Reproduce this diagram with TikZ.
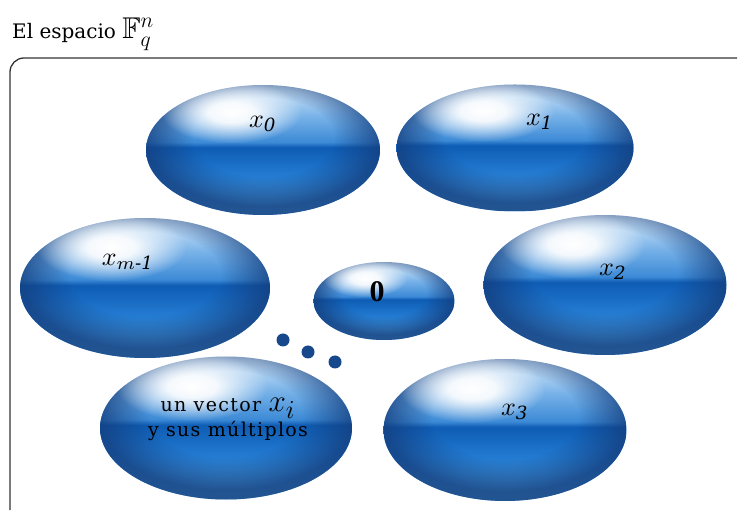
\documentclass[tikz,border=0pt]{standalone}
\usepackage{amsmath,amssymb}
\usepackage{fontspec}
\setmainfont{DejaVu Serif}
\newfontfamily\zerofont{Liberation Serif}
\usetikzlibrary{shapes.geometric,calc,fadings,positioning}
\definecolor{glosswhite}{RGB}{222,237,250}
\definecolor{glosstop}{RGB}{120,178,232}
\definecolor{glossband}{RGB}{60,138,214}
\definecolor{glossdark}{RGB}{14,92,180}
\definecolor{glossmid}{RGB}{36,124,210}
\definecolor{glossbottom}{RGB}{78,156,218}
\definecolor{rimblue}{RGB}{20,60,122}
\definecolor{dotblue}{RGB}{24,72,140}
\newcommand{\bigmath}[2][2.6]{\scalebox{#1}{$#2$}}
% glossy fill of the blobs (the path covers 25bp..75bp)
\pgfdeclareverticalshading{glossbase}{100bp}{color(0bp)=(glossbottom); color(27bp)=(glossbottom); color(40bp)=(glossmid); color(51bp)=(glossdark); color(53bp)=(glossband); color(63bp)=(glosstop); color(75bp)=(glosswhite); color(100bp)=(glosswhite)}
\pgfdeclareradialshading{glowshade}{\pgfpoint{0bp}{0bp}}{color(0bp)=(white); color(8bp)=(white!92!black); color(25bp)=(black); color(50bp)=(black)}
\pgfdeclarefading{glowfade}{\pgfuseshading{glowshade}}
\pgfdeclareradialshading{rimshade}{\pgfpoint{0bp}{7bp}}{color(0bp)=(black); color(15bp)=(black); color(25bp)=(white!75!black); color(50bp)=(white!75!black)}
\pgfdeclarefading{rimfade}{\pgfuseshading{rimshade}}
\begin{document}
\begin{tikzpicture}[
    x=1pt, y=1pt,
    blob/.style={ellipse, inner sep=0pt, shade, shading=glossbase,
        path picture={
            \fill[rimblue, path fading=rimfade] (path picture bounding box.south west) rectangle (path picture bounding box.north east);
            \fill[white, path fading=glowfade]
                let \p1=(path picture bounding box.north east), \p2=(path picture bounding box.center),
                    \n1={\x1-\x2}, \n2={\y1-\y2} in
                ($(\p2)+(-0.27*\n1,0.58*\n2)$) ellipse [x radius=0.6*\n1, y radius=0.48*\n2];
        }},
    lbl/.style={inner sep=1pt},
    dot/.style={circle, inner sep=0pt, minimum size=13pt, fill=dotblue},
    frame/.style={draw=black!80, line width=1.3pt, rounded corners=14pt},
]
\useasboundingbox (0,0) rectangle (738,511);
% title and frame
\node[anchor=base west, inner sep=0pt, font=\fontsize{20}{22}\selectfont] (title) at (12,472) {El espacio \bigmath[1.5]{\mathbb{F}_q^n}};
\draw[frame] (10,1) -- (10,453) -- (737,453);

% blobs
\node[blob, minimum width=234pt, minimum height=130pt] (x0) at (263,361) {};
\node[blob, minimum width=237pt, minimum height=127pt] (x1) at (515,363) {};
\node[blob, minimum width=250pt, minimum height=140pt] (xm) at (145,223) {};
\node[blob, minimum width=243pt, minimum height=140pt] (x2) at (605,226) {};
\node[blob, minimum width=141pt, minimum height=78pt] (zero) at (384,210) {};
\node[blob, minimum width=252pt, minimum height=143pt] (vec) at (226,83) {};
\node[blob, minimum width=243pt, minimum height=142pt] (x3) at (505,81) {};

% labels
\node[lbl] (lx0) at ($(x0)+(0,26)$) {\bigmath{x_{\mathit{0}}}};
\node[lbl] (lx1) at ($(x1)+(25,26)$) {\bigmath{x_{\mathit{1}}}};
\node[lbl] (lxm) at ($(xm)+(-17,26)$) {\bigmath{x_{m\text{-}\mathit{1}}}};
\node[lbl] (lx2) at ($(x2)+(8,13)$) {\bigmath{x_{\mathit{2}}}};
\node[font=\fontsize{30}{32}\selectfont\zerofont\bfseries] (lzero) at ($(zero)+(-7,9)$) {0};
\node[lbl] (lx3) at ($(x3)+(10,18)$) {\bigmath{x_{\mathit{3}}}};
\node[font=\fontsize{19}{25}\selectfont\addfontfeatures{LetterSpace=7}, align=center] (lvec) at ($(vec)+(2,8)$) {un vector \smash{\bigmath[1.8]{x_i}}\\y sus múltiplos};

% dots
\node[dot] (d1) at (283,171) {};
\node[dot] (d2) at (308,159) {};
\node[dot] (d3) at (335,149) {};
\end{tikzpicture}
\end{document}
